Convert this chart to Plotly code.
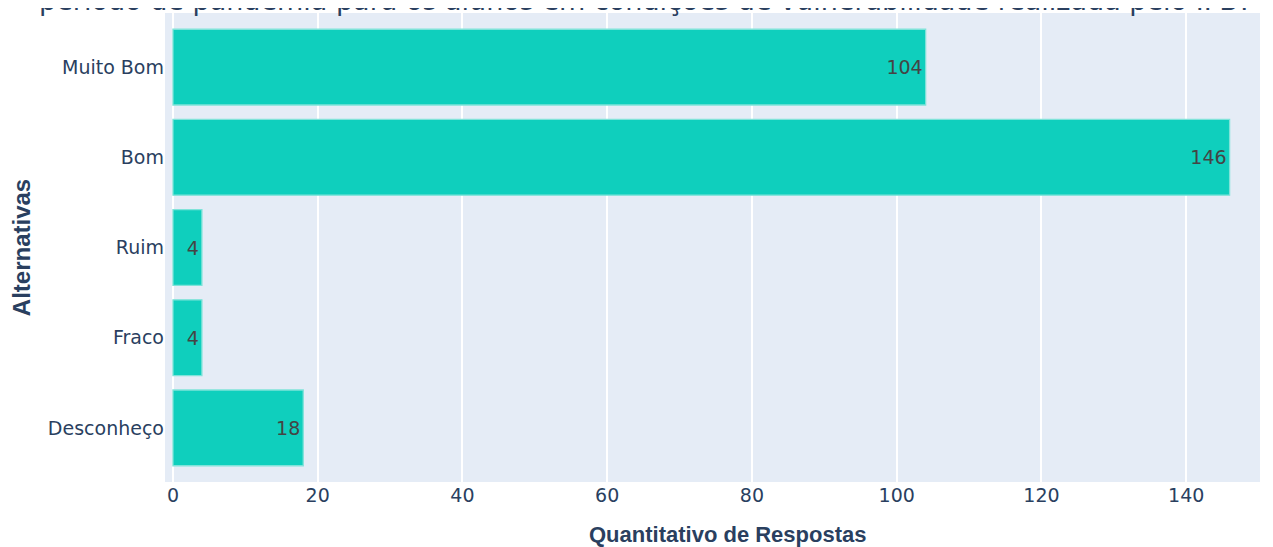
import plotly.graph_objects as go

categorias = ["Muito Bom", "Bom", "Ruim", "Fraco", "Desconheço"]
respostas = [104, 146, 4, 4, 18]

titulo = "período de pandemia para os alunos em condições de vulnerabilidade realizada pelo IFB?"
titulo_x = "Quantitativo de Respostas"
titulo_y = "Alternativas"

fig = go.Figure(go.Bar(
    x=respostas,
    y=categorias,
    orientation="h",
    text=respostas,
    textposition="inside",
    insidetextanchor="end",
    textfont=dict(family="DejaVu Sans", size=19, color="#444444"),
    marker=dict(color="#0fcfbd", line=dict(color="#7fe3d9", width=1.3)),
    width=0.84,
))

fig.update_layout(
    width=1265, height=539,
    template="plotly",
    margin=dict(l=157, r=13, t=5, b=65),
    title=dict(text=titulo, x=0.504, xanchor="center", yref="container", y=0.997, yanchor="bottom",
               font=dict(family="DejaVu Sans", size=27, color="#2a3f5f")),
    font=dict(family="DejaVu Sans", size=19, color="#2a3f5f"),
    showlegend=False,
    plot_bgcolor="#e5ecf6",
    annotations=[dict(
        text="<b>" + titulo_x + "</b>", xref="paper", yref="paper", x=0.514, y=0,
        xanchor="center", yanchor="top", yshift=-38, showarrow=False,
        font=dict(family="Liberation Sans, Arial", size=22, color="#2a3f5f"),
    )],
)
fig.update_xaxes(
    range=[-1.1, 150.2],
    tickvals=[0, 20, 40, 60, 80, 100, 120, 140],
    gridcolor="white", gridwidth=1.5, zeroline=False,
    ticks="",
)
fig.update_yaxes(
    range=[4.6, -0.6],
    categoryorder="array", categoryarray=categorias,
    title=dict(text="<b>" + titulo_y + "</b>", font=dict(family="Liberation Sans, Arial", size=24, color="#2a3f5f"), standoff=10),
    ticks="",
)

fig.write_html("out.html")
